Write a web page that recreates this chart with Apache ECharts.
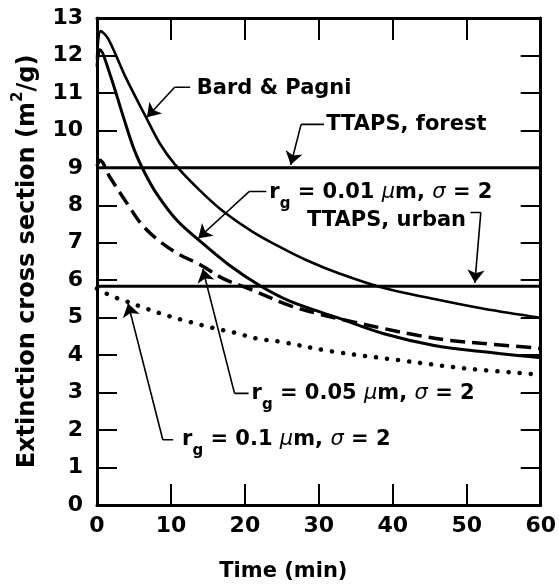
<!DOCTYPE html>
<html><head><meta charset="utf-8">
<script src="https://cdn.jsdelivr.net/npm/echarts@6/dist/echarts.min.js"></script>
<style>html,body{margin:0;padding:0;background:#fff}#c{width:559px;height:587px}</style>
</head><body><div id="c"></div>
<script>
const FONT = 'DejaVu Sans';

// ---- data (time in min, extinction cross section in m2/g) ----
const bardT = [0, 0.5, 1.5, 3.8, 6.5, 8.5, 10.5, 13.9, 17, 21, 25.1, 28.5, 32.5, 38.8, 45.6, 52.3, 60];
const bardV = [11.9, 12.65, 12.45, 11.45, 10.4, 9.65, 9.1, 8.4, 7.85, 7.3, 6.85, 6.52, 6.2, 5.79, 5.5, 5.24, 5.0];

const r001T = [0, 0.4, 1.75, 3.5, 5, 6.5, 8.1, 10.8, 13.9, 17.9, 22, 26, 32.5, 38.8, 45.6, 52.3, 60];
const r001V = [11.7, 12.15, 11.5, 10.4, 9.5, 8.85, 8.3, 7.6, 7.05, 6.4, 5.86, 5.45, 5.0, 4.57, 4.26, 4.09, 3.93];

const r005T = [0, 0.4, 1.75, 4.4, 6, 8.1, 11, 13.9, 17, 20.6, 26, 30, 34.8, 38.8, 43.3, 47.8, 52.3, 60];
const r005V = [9.05, 9.2, 8.75, 7.95, 7.5, 7.1, 6.7, 6.42, 6.05, 5.77, 5.33, 5.1, 4.88, 4.71, 4.53, 4.39, 4.31, 4.18];

const r01T = [0, 0.8, 2.2, 3.8, 6.7, 9.6, 12.5, 15.6, 18.6, 21.7, 24.7, 32.1, 41.1, 50.1, 60];
const r01V = [5.78, 5.69, 5.56, 5.45, 5.24, 5.05, 4.89, 4.73, 4.6, 4.44, 4.36, 4.09, 3.86, 3.64, 3.48];

const forestT = [0, 60];
const forestV = [9.0, 9.0];
const urbanT = [0, 60];
const urbanV = [5.84, 5.84];

// annotation texts & anchor (left, middle) in data coordinates
const noteText = [
  '{t|Bard & Pagni}',
  '{t|TTAPS, forest}',
  '{t|r}{sub|g}{t| = 0.01 }{gr|\u03bc}{t|m, }{gr|\u03c3}{t| = 2}',
  '{t|TTAPS, urban}',
  '{t|r}{sub|g}{t| = 0.05 }{gr|\u03bc}{t|m, }{gr|\u03c3}{t| = 2}',
  '{t|r}{sub|g}{t| = 0.1 }{gr|\u03bc}{t|m, }{gr|\u03c3}{t| = 2}'
];
const noteT = [13.5, 31.0, 23.3, 28.4, 20.9, 11.5];
const noteV = [11.12, 10.15, 8.35, 7.6, 2.98, 1.74];

// leader lines (data coordinates), arrow at the last point
const leaderPaths = [
  [[12.6, 11.15], [10.5, 11.15], [6.75, 10.35]],
  [[30.7, 10.16], [27.6, 10.16], [26.2, 9.08]],
  [[22.9, 8.37], [20.6, 8.37], [13.7, 7.12]],
  [[50.5, 7.81], [51.9, 7.81], [51.1, 5.93]],
  [[20.5, 2.98], [18.6, 2.98], [14.3, 6.3]],
  [[10.3, 1.74], [8.9, 1.74], [4.2, 5.38]]
];

const pairs = (T, V) => T.map((t, i) => [t, V[i]]);

const lblStyle = { color: '#000', fontFamily: FONT, fontWeight: 'bold', fontSize: 22 };
const axLine = { show: true, onZero: false, lineStyle: { color: '#000', width: 3 } };
const tick = (len) => ({ show: true, inside: true, length: len, lineStyle: { color: '#000', width: 2 } });

const chart = echarts.init(document.getElementById('c'), null, { renderer: 'canvas' });

const option = {
  animation: false,
  backgroundColor: '#fff',
  grid: { left: 97, right: 17, top: 18, bottom: 80 },
  xAxis: [
    {
      type: 'value', min: 0, max: 60, interval: 10, position: 'bottom',
      axisLine: axLine, axisTick: tick(21),
      axisLabel: Object.assign({ margin: 10 }, lblStyle),
      splitLine: { show: false },
      name: 'Time (min)', nameLocation: 'middle', nameGap: 56,
      nameTextStyle: { color: '#000', fontFamily: FONT, fontWeight: 'bold', fontSize: 21, padding: [0, 71, 0, 0] }
    },
    {
      type: 'value', min: 0, max: 60, interval: 10, position: 'top',
      axisLine: axLine, axisTick: tick(22), axisLabel: { show: false }, splitLine: { show: false }
    }
  ],
  yAxis: [
    {
      type: 'value', min: 0, max: 13, interval: 1, position: 'left',
      axisLine: axLine, axisTick: tick(20),
      axisLabel: Object.assign({ margin: 14 }, lblStyle),
      splitLine: { show: false },
      name: '{a|Extinction cross section (m}{s|2}{a|/g)}', nameLocation: 'middle', nameGap: 45,
      nameTextStyle: {
        color: '#000',
        rich: {
          a: { color: '#000', fontFamily: FONT, fontWeight: 'bold', fontSize: 24, lineHeight: 28 },
          s: { color: '#000', fontFamily: FONT, fontWeight: 'bold', fontSize: 15, lineHeight: 15, padding: [0, 0, 16, 0], verticalAlign: 'bottom' }
        }
      }
    },
    {
      type: 'value', min: 0, max: 13, interval: 1, position: 'right',
      axisLine: axLine, axisTick: tick(20), axisLabel: { show: false }, splitLine: { show: false }
    }
  ],
  series: [
    { name: 'TTAPS, forest', type: 'line', data: pairs(forestT, forestV), symbol: 'none',
      lineStyle: { color: '#000', width: 3 } },
    { name: 'TTAPS, urban', type: 'line', data: pairs(urbanT, urbanV), symbol: 'none',
      lineStyle: { color: '#000', width: 3 } },
    { name: 'Bard & Pagni', type: 'line', data: pairs(bardT, bardV), symbol: 'none', smooth: 0.35,
      lineStyle: { color: '#000', width: 2.6 } },
    { name: 'rg 0.01', type: 'line', data: pairs(r001T, r001V), symbol: 'none', smooth: 0.35,
      lineStyle: { color: '#000', width: 3 } },
    { name: 'rg 0.05', type: 'line', data: pairs(r005T, r005V), symbol: 'none', smooth: 0.35,
      lineStyle: { color: '#000', width: 3.5, type: [15, 7] } },
    { name: 'rg 0.1', type: 'line', data: pairs(r01T, r01V), symbol: 'none', smooth: 0.35,
      lineStyle: { color: '#000', width: 4.5, type: [0.1, 11], cap: 'round' } },
    { name: 'leader elbows', type: 'lines', coordinateSystem: 'cartesian2d', polyline: true,
      lineStyle: { color: '#000', width: 1.6, opacity: 1 },
      data: leaderPaths.map(p => ({ coords: p.slice(0, p.length - 1) })) },
    { name: 'leader arrows', type: 'lines', coordinateSystem: 'cartesian2d',
      symbol: ['none', 'arrow'], symbolSize: [6, 13],
      lineStyle: { color: '#000', width: 1.6, opacity: 1 },
      data: leaderPaths.map(p => ({ coords: p.slice(p.length - 2) })) }
  ]
};
chart.setOption(option);

const richStyles = {
  t: { fill: '#000', fontFamily: FONT, fontWeight: 'bold', fontSize: 21, lineHeight: 26 },
  sub: { fill: '#000', fontFamily: FONT, fontWeight: 'bold', fontSize: 15, lineHeight: 15, padding: [17, 0, 0, 0], verticalAlign: 'top' },
  gr: { fill: '#000', fontFamily: FONT, fontStyle: 'italic', fontWeight: 'normal', fontSize: 21, lineHeight: 26 }
};
const graphics = noteText.map((txt, i) => {
  const p = chart.convertToPixel({ gridIndex: 0 }, [noteT[i], noteV[i]]);
  return {
    type: 'text', x: p[0], y: p[1], z: 10,
    style: { text: txt, rich: richStyles, align: 'left', verticalAlign: 'middle', fill: '#000' }
  };
});
chart.setOption({ graphic: graphics });
</script>
</body></html>
